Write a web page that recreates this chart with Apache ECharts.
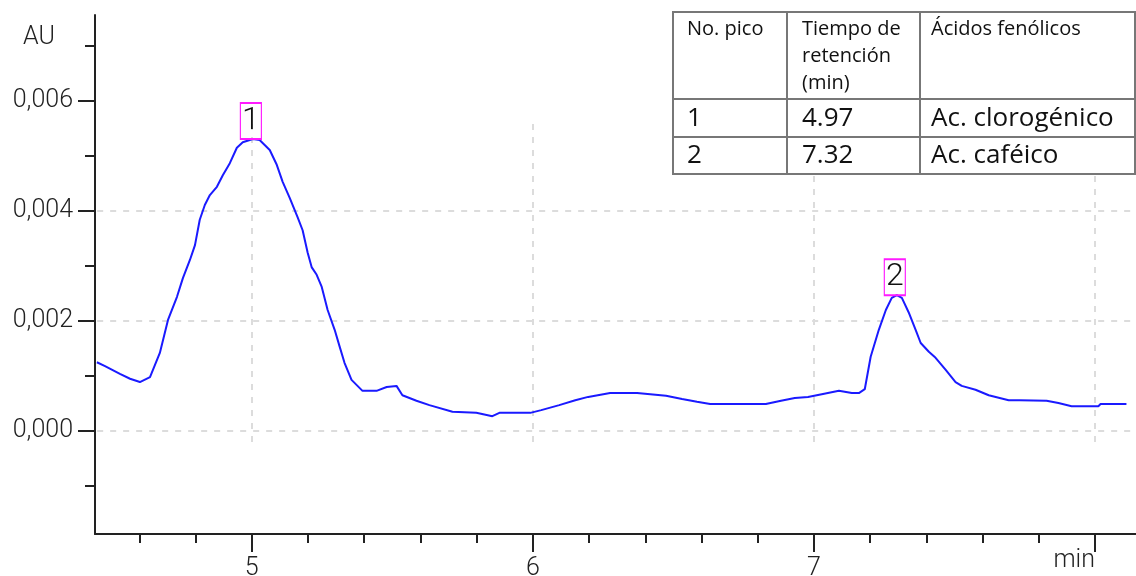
<!DOCTYPE html>
<html>
<head>
<meta charset="utf-8">
<script src="https://cdn.jsdelivr.net/npm/echarts@6/dist/echarts.min.js"></script>
<style>
  html, body { margin: 0; padding: 0; background: #fff; }
  #chart { width: 1136px; height: 576px; }
</style>
</head>
<body>
<div id="chart"></div>
<script>
// Retention time (min) and detector response (AU) of the chromatogram trace
const times = [
  4.449, 4.478, 4.531, 4.567, 4.602, 4.638, 4.673, 4.702, 4.734, 4.755,
  4.780, 4.798, 4.815, 4.833, 4.851, 4.876, 4.897, 4.922, 4.947, 4.968,
  5.004, 5.028, 5.064, 5.089, 5.110, 5.135, 5.163, 5.181, 5.199, 5.213,
  5.231, 5.249, 5.270, 5.295, 5.313, 5.330, 5.355, 5.394, 5.444, 5.480,
  5.515, 5.536, 5.586, 5.632, 5.714, 5.799, 5.856, 5.881, 5.991, 6.030,
  6.094, 6.151, 6.197, 6.275, 6.371, 6.474, 6.531, 6.584, 6.631, 6.829,
  6.883, 6.932, 6.979, 7.028, 7.089, 7.135, 7.160, 7.181, 7.202, 7.231,
  7.256, 7.277, 7.295, 7.313, 7.337, 7.362, 7.380, 7.409, 7.433, 7.469,
  7.504, 7.526, 7.575, 7.622, 7.693, 7.732, 7.828, 7.870, 7.917, 8.012,
  8.020, 8.112
];
const absorbance = [
  0.00125, 0.00118, 0.00104, 0.00095, 0.00089, 0.00098, 0.00142, 0.00202, 0.00244, 0.00278,
  0.00311, 0.00338, 0.00384, 0.00411, 0.00429, 0.00444, 0.00465, 0.00487, 0.00515, 0.00525,
  0.00531, 0.00529, 0.00511, 0.00484, 0.00453, 0.00424, 0.00389, 0.00365, 0.00324, 0.00298,
  0.00284, 0.00262, 0.00220, 0.00184, 0.00153, 0.00124, 0.00093, 0.00073, 0.00073, 0.00080,
  0.00082, 0.00065, 0.00055, 0.00047, 0.00035, 0.00033, 0.00027, 0.00033, 0.00033, 0.00038,
  0.00047, 0.00056, 0.00062, 0.00069, 0.00069, 0.00064, 0.00058, 0.00053, 0.00049, 0.00049,
  0.00055, 0.00060, 0.00062, 0.00067, 0.00073, 0.00069, 0.00069, 0.00076, 0.00135, 0.00184,
  0.00220, 0.00242, 0.00247, 0.00242, 0.00216, 0.00184, 0.00160, 0.00144, 0.00133, 0.00111,
  0.00089, 0.00082, 0.00075, 0.00065, 0.00056, 0.00056, 0.00055, 0.00051, 0.00045, 0.00045,
  0.00049, 0.00049
];

// Axis ticks and labels
const yMajorTicks = [0, 0.002, 0.004, 0.006];
const yMinorTicks = [-0.001, 0.001, 0.003, 0.005, 0.007];
const xMajorTicks = [5, 6, 7, 8];
const xLabelTicks = [5, 6, 7];
const xMinorTicks = [4.6, 4.8, 5.2, 5.4, 5.6, 5.8, 6.2, 6.4, 6.6, 6.8, 7.2, 7.4, 7.6, 7.8];
const yAxisTitle = 'AU';
const xAxisTitle = 'min';

// Dashed reference grid
const gridRowsAU = [0, 0.002, 0.004];
const gridColsMin = [5, 6, 7, 8];

// Peak markers
const peakNames = ['1', '2'];
const peakTimes = [5.00, 7.30];

// Peak identification table
const tableHeader = [['No. pico'], ['Tiempo de', 'retención', '(min)'], ['Ácidos fenólicos']];
const tableRows = [
  ['1', '4.97', 'Ac. clorogénico'],
  ['2', '7.32', 'Ac. caféico']
];

const X_MIN = 4.4423, X_MAX = 8.146;
const Y_MIN = -0.0018727, Y_MAX = 0.0075636;
const AXIS_COLOR = '#222';
const LABEL_FONT = 'Roboto';

const chart = echarts.init(document.getElementById('chart'), null, { renderer: 'canvas' });

// locate the apex of each labelled peak in the trace
function peakIndex(t) {
  let best = -1;
  for (let i = 0; i < times.length; i++) {
    if (Math.abs(times[i] - t) <= 0.06 && (best < 0 || absorbance[i] > absorbance[best])) best = i;
  }
  return best;
}

const traceData = times.map((t, i) => [t, absorbance[i]]);

const gridSegments = [];
gridRowsAU.forEach(v => gridSegments.push([{ coord: [4.45, v] }, { coord: [8.14, v] }]));
gridColsMin.forEach(t => gridSegments.push([{ coord: [t, -0.0002] }, { coord: [t, 0.0056] }]));

const peakPoints = peakNames.map((name, k) => {
  const i = peakIndex(peakTimes[k]);
  return { name: name, coord: [times[i], absorbance[i]] };
});

// table drawn as graphic elements
const tbl = { left: 673, right: 1135, top: 12, cols: [787, 920], rows: [99, 137], bottom: 174 };
const lineStyle = { stroke: '#777', lineWidth: 2 };
const tableGraphics = [
  { type: 'rect', shape: { x: tbl.left, y: tbl.top, width: tbl.right - tbl.left, height: tbl.bottom - tbl.top },
    style: { fill: '#fff', stroke: '#777', lineWidth: 2 }, z: 10 }
];
tbl.cols.forEach(x => tableGraphics.push({ type: 'line', shape: { x1: x, y1: tbl.top, x2: x, y2: tbl.bottom }, style: lineStyle, z: 11 }));
tbl.rows.forEach(y => tableGraphics.push({ type: 'line', shape: { x1: tbl.left, y1: y, x2: tbl.right, y2: y }, style: lineStyle, z: 11 }));
const colTextX = [687, 802, 931];
tableHeader.forEach((lines, c) => {
  lines.forEach((s, j) => {
    tableGraphics.push({ type: 'text', z: 12,
      style: { text: s, x: colTextX[c], y: 29 + j * 27, font: '20px "Open Sans"', fill: '#111',
               align: 'left', verticalAlign: 'middle', textAlign: 'left', textVerticalAlign: 'middle' } });
  });
});
const rowTextY = [119, 156];
tableRows.forEach((row, r) => {
  row.forEach((s, c) => {
    tableGraphics.push({ type: 'text', z: 12,
      style: { text: s, x: colTextX[c], y: rowTextY[r], font: '26px "Open Sans"', fill: '#111',
               align: 'left', verticalAlign: 'middle', textAlign: 'left', textVerticalAlign: 'middle' } });
  });
});

const baseX = {
  type: 'value', min: X_MIN, max: X_MAX, position: 'bottom', offset: 0,
  splitLine: { show: false }, axisPointer: { show: false }
};
const baseY = {
  type: 'value', min: Y_MIN, max: Y_MAX, position: 'left', offset: 0,
  splitLine: { show: false }, axisPointer: { show: false }
};

const option = {
  animation: false,
  backgroundColor: '#fff',
  grid: { left: 95, right: 0, top: 15, bottom: 42, containLabel: false, outerBoundsMode: 'none' },
  xAxis: [
    Object.assign({}, baseX, {
      axisLine: { show: true, onZero: false, lineStyle: { color: AXIS_COLOR, width: 2 } },
      axisTick: { show: true, length: 18, customValues: xMajorTicks, lineStyle: { color: AXIS_COLOR, width: 2 } },
      axisLabel: { show: true, customValues: xLabelTicks, margin: 22, color: '#222',
                   fontFamily: LABEL_FONT, fontSize: 25, fontWeight: 300, formatter: v => String(Math.round(v)) }
    }),
    Object.assign({}, baseX, {
      axisLine: { show: false, onZero: false },
      axisTick: { show: true, length: 9, customValues: xMinorTicks, lineStyle: { color: AXIS_COLOR, width: 2 } },
      axisLabel: { show: false }
    })
  ],
  yAxis: [
    Object.assign({}, baseY, {
      axisLine: { show: true, onZero: false, lineStyle: { color: AXIS_COLOR, width: 2 } },
      axisTick: { show: true, length: 17, customValues: yMajorTicks, lineStyle: { color: AXIS_COLOR, width: 2 } },
      axisLabel: { show: true, customValues: yMajorTicks, margin: 22, color: '#222',
                   fontFamily: LABEL_FONT, fontSize: 25, fontWeight: 300, formatter: v => v.toFixed(3).replace('.', ',') }
    }),
    Object.assign({}, baseY, {
      axisLine: { show: false, onZero: false },
      axisTick: { show: true, length: 10, customValues: yMinorTicks, lineStyle: { color: AXIS_COLOR, width: 2 } },
      axisLabel: { show: false }
    })
  ],
  series: [
    {
      name: 'AU',
      type: 'line',
      xAxisIndex: 0, yAxisIndex: 0,
      data: traceData,
      showSymbol: false, symbol: 'none', smooth: false,
      lineStyle: { color: '#1a1aff', width: 2 },
      z: 3,
      markLine: {
        silent: true, symbol: ['none', 'none'], animation: false,
        label: { show: false },
        lineStyle: { color: '#dcdcdc', width: 2, type: [6, 7] },
        emphasis: { disabled: true },
        data: gridSegments,
        z: 1
      },
      markPoint: {
        silent: true, animation: false,
        symbol: 'rect', symbolSize: [21, 36], symbolOffset: [-2, -18],
        itemStyle: { color: 'rgba(255,255,255,0)', borderColor: '#ff1aff', borderWidth: 1.5 },
        label: { show: true, position: 'inside', formatter: p => p.name, color: '#111',
                 fontFamily: LABEL_FONT, fontSize: 32, fontWeight: 300 },
        data: peakPoints
      }
    }
  ],
  graphic: tableGraphics
};

chart.setOption(option);

// axis titles placed against the axis ends
const xEndPx = chart.convertToPixel({ xAxisIndex: 0 }, 8);
chart.setOption({
  graphic: tableGraphics.concat([
    { type: 'text', z: 5, style: { text: yAxisTitle, x: 23, y: 38, font: '300 25px Roboto', fill: '#222',
        align: 'left', verticalAlign: 'middle', textAlign: 'left', textVerticalAlign: 'middle' } },
    { type: 'text', z: 5, style: { text: xAxisTitle, x: xEndPx, y: 561, font: '300 25px Roboto', fill: '#222',
        align: 'right', verticalAlign: 'middle', textAlign: 'right', textVerticalAlign: 'middle' } }
  ])
});
</script>
</body>
</html>
